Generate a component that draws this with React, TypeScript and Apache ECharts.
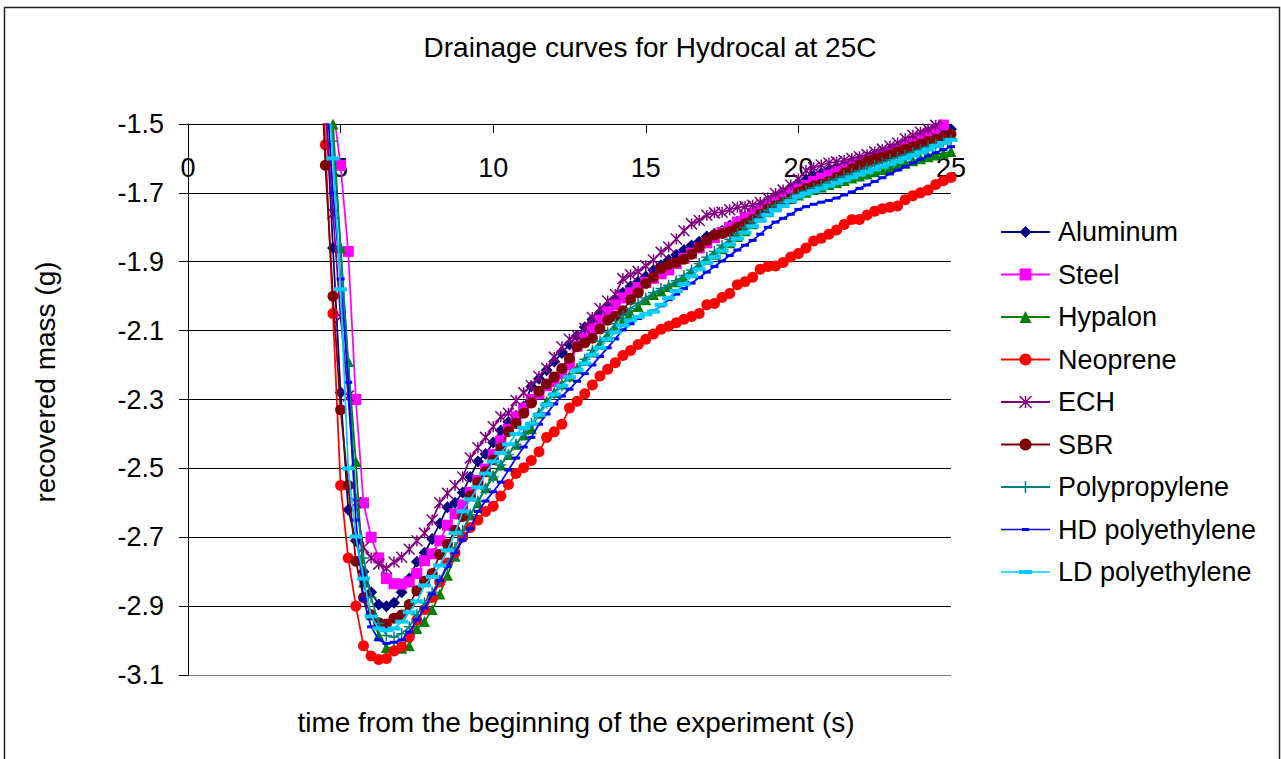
import React, { useEffect, useRef } from "react";
import * as echarts from "echarts";

// Sample times (s), one reading every 0.25 s
const TIME = [
  4.25, 4.5, 4.75,
  5, 5.25, 5.5, 5.75,
  6, 6.25, 6.5, 6.75,
  7, 7.25, 7.5, 7.75,
  8, 8.25, 8.5, 8.75,
  9, 9.25, 9.5, 9.75,
  10, 10.25, 10.5, 10.75,
  11, 11.25, 11.5, 11.75,
  12, 12.25, 12.5, 12.75,
  13, 13.25, 13.5, 13.75,
  14, 14.25, 14.5, 14.75,
  15, 15.25, 15.5, 15.75,
  16, 16.25, 16.5, 16.75,
  17, 17.25, 17.5, 17.75,
  18, 18.25, 18.5, 18.75,
  19, 19.25, 19.5, 19.75,
  20, 20.25, 20.5, 20.75,
  21, 21.25, 21.5, 21.75,
  22, 22.25, 22.5, 22.75,
  23, 23.25, 23.5, 23.75,
  24, 24.25, 24.5, 24.75,
  25,
];

// Recovered mass (g) for each surface material
const ALUMINUM = [
  -1.0, -1.42, -1.86,
  -2.28, -2.62, -2.71, -2.8,
  -2.86, -2.895, -2.9, -2.89,
  -2.86, -2.82, -2.771, -2.745,
  -2.705, -2.66, -2.613, -2.6,
  -2.57, -2.525, -2.48, -2.458,
  -2.425, -2.39, -2.365, -2.347,
  -2.32, -2.262, -2.24, -2.215,
  -2.19, -2.165, -2.14, -2.115,
  -2.09, -2.068, -2.048, -2.03,
  -2.01, -1.99, -1.972, -1.958,
  -1.943, -1.925, -1.91, -1.895,
  -1.88, -1.866, -1.853, -1.842,
  -1.827, -1.819, -1.81, -1.795,
  -1.783, -1.771, -1.758, -1.745,
  -1.73, -1.715, -1.7, -1.685,
  -1.673, -1.662, -1.65, -1.642,
  -1.634, -1.626, -1.618, -1.61,
  -1.603, -1.597, -1.59, -1.582,
  -1.575, -1.568, -1.56, -1.553,
  -1.546, -1.538, -1.53, -1.522,
  -1.515,
];

const STEEL = [
  -0.95, -1.2, -1.45,
  -1.62, -1.87, -2.3, -2.6,
  -2.7, -2.76, -2.82, -2.835,
  -2.836, -2.83, -2.805, -2.768,
  -2.748, -2.71, -2.665, -2.632,
  -2.606, -2.57, -2.535, -2.502,
  -2.46, -2.42, -2.386, -2.35,
  -2.325, -2.3, -2.283, -2.26,
  -2.248, -2.225, -2.2, -2.145,
  -2.12, -2.095, -2.07, -2.045,
  -2.025, -2.005, -1.99, -1.975,
  -1.96, -1.948, -1.935, -1.924,
  -1.905, -1.89, -1.875, -1.86,
  -1.845, -1.83, -1.815, -1.8,
  -1.785, -1.772, -1.76, -1.748,
  -1.735, -1.722, -1.71, -1.698,
  -1.688, -1.678, -1.667, -1.657,
  -1.648, -1.638, -1.63, -1.622,
  -1.614, -1.605, -1.597, -1.59,
  -1.582, -1.573, -1.563, -1.552,
  -1.54, -1.528, -1.516, -1.503,
  -1.49,
];

const HYPALON = [
  -0.9, -1.15, -1.5,
  -1.86, -2.19, -2.48, -2.83,
  -2.925, -2.985, -3.02, -3.022,
  -3.022, -3.015, -2.965, -2.945,
  -2.91, -2.865, -2.81, -2.755,
  -2.69, -2.635, -2.6, -2.556,
  -2.52, -2.49, -2.46, -2.43,
  -2.403, -2.385, -2.34, -2.305,
  -2.28, -2.255, -2.232, -2.21,
  -2.186, -2.162, -2.14, -2.117,
  -2.093, -2.07, -2.05, -2.03,
  -2.01, -1.995, -1.985, -1.972,
  -1.958, -1.945, -1.928, -1.91,
  -1.893, -1.878, -1.862, -1.845,
  -1.827, -1.81, -1.79, -1.77,
  -1.755, -1.74, -1.728, -1.716,
  -1.706, -1.698, -1.69, -1.683,
  -1.676, -1.67, -1.664, -1.657,
  -1.651, -1.645, -1.639, -1.632,
  -1.626, -1.62, -1.614, -1.607,
  -1.601, -1.595, -1.59, -1.585,
  -1.58,
];

const NEOPRENE = [
  -1.0, -1.56, -2.05,
  -2.55, -2.76, -2.9, -3.015,
  -3.045, -3.055, -3.052, -3.03,
  -3.018, -2.99, -2.94, -2.91,
  -2.875, -2.83, -2.775, -2.745,
  -2.7, -2.672, -2.65, -2.625,
  -2.61, -2.58, -2.547, -2.515,
  -2.498, -2.477, -2.452, -2.41,
  -2.394, -2.372, -2.325, -2.305,
  -2.283, -2.258, -2.232, -2.212,
  -2.193, -2.172, -2.158, -2.14,
  -2.125, -2.11, -2.096, -2.087,
  -2.077, -2.067, -2.059, -2.05,
  -2.025, -2.021, -2.004, -1.992,
  -1.967, -1.958, -1.945, -1.922,
  -1.914, -1.912, -1.902, -1.886,
  -1.876, -1.86, -1.84, -1.832,
  -1.82, -1.808, -1.792, -1.777,
  -1.777, -1.764, -1.753, -1.746,
  -1.742, -1.738, -1.72, -1.708,
  -1.7, -1.692, -1.676, -1.665,
  -1.655,
];

const ECH = [
  -1.05, -1.45, -1.76,
  -2.06, -2.29, -2.6, -2.73,
  -2.76, -2.778, -2.79, -2.772,
  -2.758, -2.735, -2.71, -2.688,
  -2.65, -2.6, -2.572, -2.55,
  -2.525, -2.47, -2.44, -2.41,
  -2.379, -2.35, -2.34, -2.303,
  -2.28, -2.26, -2.233, -2.209,
  -2.177, -2.147, -2.125, -2.114,
  -2.093, -2.062, -2.036, -2.014,
  -1.995, -1.949, -1.938, -1.928,
  -1.912, -1.895, -1.872, -1.857,
  -1.834, -1.81, -1.79, -1.78,
  -1.765, -1.758, -1.756, -1.749,
  -1.742, -1.74, -1.736, -1.728,
  -1.715, -1.702, -1.692, -1.677,
  -1.66, -1.635, -1.627, -1.619,
  -1.613, -1.61, -1.606, -1.6,
  -1.595, -1.589, -1.581, -1.573,
  -1.564, -1.555, -1.543, -1.533,
  -1.524, -1.515, -1.504, -1.496,
  -1.488,
];

const SBR = [
  -1.1, -1.62, -2.0,
  -2.33, -2.55, -2.77, -2.875,
  -2.925, -2.948, -2.952, -2.935,
  -2.926, -2.895, -2.855, -2.828,
  -2.805, -2.75, -2.72, -2.68,
  -2.64, -2.58, -2.54, -2.51,
  -2.475, -2.44, -2.393, -2.37,
  -2.34, -2.31, -2.276, -2.255,
  -2.235, -2.21, -2.18, -2.147,
  -2.135, -2.122, -2.095, -2.07,
  -2.058, -2.042, -2.01, -1.99,
  -1.963, -1.945, -1.92, -1.908,
  -1.902, -1.893, -1.878, -1.858,
  -1.838, -1.822, -1.818, -1.812,
  -1.8, -1.79, -1.778, -1.762,
  -1.746, -1.737, -1.727, -1.717,
  -1.698, -1.687, -1.68, -1.674,
  -1.667, -1.655, -1.642, -1.63,
  -1.62, -1.609, -1.603, -1.597,
  -1.59, -1.581, -1.573, -1.566,
  -1.558, -1.551, -1.544, -1.537,
  -1.53,
];

const POLYPROPYLENE = [
  -0.95, -1.25, -1.55,
  -1.86, -2.2, -2.59, -2.76,
  -2.875, -2.95, -2.985, -2.99,
  -2.98, -2.96, -2.925, -2.89,
  -2.86, -2.825, -2.78, -2.73,
  -2.68, -2.635, -2.595, -2.56,
  -2.525, -2.49, -2.46, -2.43,
  -2.4, -2.37, -2.34, -2.31,
  -2.285, -2.26, -2.235, -2.21,
  -2.183, -2.157, -2.13, -2.105,
  -2.08, -2.057, -2.036, -2.02,
  -2.005, -1.99, -1.978, -1.968,
  -1.955, -1.94, -1.924, -1.905,
  -1.887, -1.87, -1.852, -1.835,
  -1.818, -1.8, -1.782, -1.765,
  -1.75, -1.737, -1.726, -1.714,
  -1.703, -1.694, -1.685, -1.677,
  -1.668, -1.66, -1.652, -1.644,
  -1.636, -1.628, -1.62, -1.612,
  -1.604, -1.597, -1.59, -1.582,
  -1.574, -1.566, -1.558, -1.552,
  -1.546,
];

const HD_POLYETHYLENE = [
  -1.0, -1.35, -1.7,
  -1.95, -2.25, -2.65, -2.88,
  -2.96, -2.998, -3.008, -3.005,
  -2.998, -2.975, -2.94, -2.906,
  -2.865, -2.826, -2.785, -2.745,
  -2.708, -2.675, -2.625, -2.595,
  -2.568, -2.54, -2.505, -2.47,
  -2.438, -2.41, -2.372, -2.342,
  -2.313, -2.29, -2.27, -2.247,
  -2.225, -2.2, -2.175, -2.15,
  -2.124, -2.098, -2.08, -2.065,
  -2.052, -2.043, -2.028, -2.01,
  -1.994, -1.978, -1.962, -1.946,
  -1.93, -1.914, -1.898, -1.882,
  -1.866, -1.852, -1.838, -1.82,
  -1.8, -1.785, -1.774, -1.762,
  -1.748, -1.74, -1.733, -1.727,
  -1.722, -1.715, -1.706, -1.697,
  -1.687, -1.677, -1.667, -1.656,
  -1.645, -1.634, -1.624, -1.613,
  -1.602, -1.592, -1.583, -1.574,
  -1.566,
];

const LD_POLYETHYLENE = [
  -1.0, -1.3, -1.6,
  -1.98, -2.5, -2.698, -2.82,
  -2.93, -2.965, -2.97, -2.965,
  -2.945, -2.918, -2.886, -2.84,
  -2.815, -2.782, -2.738, -2.688,
  -2.625, -2.59, -2.555, -2.515,
  -2.48, -2.455, -2.43, -2.4,
  -2.382, -2.37, -2.345, -2.315,
  -2.285, -2.26, -2.235, -2.215,
  -2.195, -2.17, -2.15, -2.125,
  -2.105, -2.085, -2.07, -2.06,
  -2.053, -2.045, -2.025, -2.005,
  -1.985, -1.965, -1.942, -1.922,
  -1.903, -1.886, -1.868, -1.85,
  -1.833, -1.816, -1.797, -1.78,
  -1.764, -1.75, -1.738, -1.724,
  -1.711, -1.702, -1.695, -1.687,
  -1.679, -1.671, -1.663, -1.655,
  -1.647, -1.64, -1.632, -1.624,
  -1.617, -1.609, -1.6, -1.592,
  -1.583, -1.574, -1.564, -1.555,
  -1.546,
];

const SERIES_NAMES = [
  "Aluminum",
  "Steel",
  "Hypalon",
  "Neoprene",
  "ECH",
  "SBR",
  "Polypropylene",
  "HD polyethylene",
  "LD polyethylene",
];

const SERIES_VALUES = [
  ALUMINUM,
  STEEL,
  HYPALON,
  NEOPRENE,
  ECH,
  SBR,
  POLYPROPYLENE,
  HD_POLYETHYLENE,
  LD_POLYETHYLENE,
];

const X_TICKS = { min: 0, max: 25, step: 5 };
const Y_TICKS = { min: -3.1, max: -1.5, step: 0.2 };

const TITLE = "Drainage curves for Hydrocal at 25C";
const X_TITLE = "time from the beginning of the experiment (s)";
const Y_TITLE = "recovered mass (g)";

const FONT = '"Liberation Sans", Arial, sans-serif';

// Marker appearance per series (Excel-style markers)
const ASTERISK = "path://M0,0L10,10M10,0L0,10M5,0L5,10";
const PLUS = "path://M5,0L5,10M0,5L10,5";
const STYLES = [
  { color: "#000080", symbol: "diamond", size: [12, 12], stroke: 0 },
  { color: "#FF00FF", symbol: "rect", size: [11, 11], stroke: 0 },
  { color: "#008000", symbol: "triangle", size: [11, 11], stroke: 0 },
  { color: "#FF0000", symbol: "circle", size: [11, 11], stroke: 0 },
  { color: "#800080", symbol: ASTERISK, size: [11, 11], stroke: 1.5 },
  { color: "#800000", symbol: "circle", size: [11, 11], stroke: 0 },
  { color: "#008080", symbol: PLUS, size: [11, 11], stroke: 1.5 },
  { color: "#0000FF", symbol: "rect", size: [8, 3], stroke: 0 },
  { color: "#00CCFF", symbol: "rect", size: [13, 4], stroke: 0 },
];

// Legend icons for the dash markers: a line with a short bar on it
const LEGEND_ICONS: Record<string, string> = {
  "HD polyethylene": "path://M0,0.75H49V2.25H0Z M21,0H28V3H21Z",
  "LD polyethylene": "path://M0,1.25H49V2.75H0Z M18,0H31V4H18Z",
};

function buildOption(): echarts.EChartsCoreOption {
  const series = SERIES_NAMES.map((name, k) => {
    const st = STYLES[k];
    return {
      name,
      type: "line",
      data: TIME.map((t, i) => [t, SERIES_VALUES[k][i]]),
      symbol: st.symbol,
      symbolSize: st.size,
      showAllSymbol: true,
      clip: true,
      lineStyle: { color: st.color, width: 1.75 },
      itemStyle: {
        color: st.color,
        borderColor: st.color,
        borderWidth: st.stroke,
      },
      emphasis: { disabled: true },
      z: 2 + k,
    };
  });

  const legendData = SERIES_NAMES.map((name, k) => {
    const item: any = { name };
    if (LEGEND_ICONS[name]) item.icon = LEGEND_ICONS[name];
    if (STYLES[k].stroke > 0) {
      item.itemStyle = { borderWidth: 1.5, borderColor: STYLES[k].color };
    }
    return item;
  });

  return {
    animation: false,
    backgroundColor: "#ffffff",
    textStyle: { fontFamily: FONT },
    grid: {
      left: 188,
      top: 124,
      width: 763,
      height: 551,
      containLabel: false,
      outerBoundsMode: "none",
    },
    xAxis: {
      type: "value",
      position: "top",
      min: X_TICKS.min,
      max: X_TICKS.max,
      interval: X_TICKS.step,
      axisLine: { show: true, onZero: false, lineStyle: { color: "#000", width: 1 } },
      axisTick: { show: true, inside: true, length: 9, lineStyle: { color: "#000" } },
      axisLabel: {
        inside: true,
        margin: 30,
        fontSize: 27,
        color: "#000",
        fontFamily: FONT,
        showMinLabel: true,
        showMaxLabel: true,
      },
      splitLine: { show: false },
    },
    yAxis: {
      type: "value",
      min: Y_TICKS.min,
      max: Y_TICKS.max,
      interval: Y_TICKS.step,
      axisLine: { show: true, onZero: false, lineStyle: { color: "#000", width: 1 } },
      axisTick: { show: true, length: 9, lineStyle: { color: "#000" } },
      axisLabel: {
        margin: 24,
        fontSize: 27,
        color: "#000",
        fontFamily: FONT,
        formatter: (v: number) => v.toFixed(1),
      },
      splitLine: {
        show: true,
        lineStyle: {
          color: ["#808080", "#000", "#000", "#000", "#000", "#000", "#000", "#000", "#000"],
          width: 1,
        },
      },
    },
    legend: {
      orient: "vertical",
      left: 1000,
      top: 218,
      padding: 0,
      itemWidth: 49,
      itemHeight: 15,
      itemGap: 14.5,
      selectedMode: false,
      itemStyle: { borderWidth: 0 },
      textStyle: {
        fontSize: 27,
        lineHeight: 28,
        color: "#000",
        fontFamily: FONT,
        padding: [0, 0, 0, 3],
      },
      data: legendData,
    },
    graphic: [
      {
        type: "rect",
        silent: true,
        shape: { x: 4.5, y: 7.5, width: 1275, height: 760 },
        style: { fill: "none", stroke: "#222", lineWidth: 1.5 },
      },
      {
        type: "text",
        silent: true,
        x: 650,
        y: 47,
        style: {
          text: TITLE,
          fontSize: 28,
          fontFamily: FONT,
          fill: "#000",
          align: "center",
          verticalAlign: "middle",
        },
      },
      {
        type: "text",
        silent: true,
        x: 576,
        y: 722,
        style: {
          text: X_TITLE,
          fontSize: 28,
          fontFamily: FONT,
          fill: "#000",
          align: "center",
          verticalAlign: "middle",
        },
      },
      {
        type: "text",
        silent: true,
        x: 45,
        y: 382,
        rotation: Math.PI / 2,
        style: {
          text: Y_TITLE,
          fontSize: 28,
          fontFamily: FONT,
          fill: "#000",
          align: "center",
          verticalAlign: "middle",
        },
      },
    ],
    series,
  };
}

export default function App() {
  const ref = useRef<HTMLDivElement>(null);

  useEffect(() => {
    if (!ref.current) return;
    const chart = echarts.init(ref.current, null, { renderer: "svg" });
    chart.setOption(buildOption());
    return () => {
      chart.dispose();
    };
  }, []);

  return (
    <div
      ref={ref}
      style={{
        position: "fixed",
        left: 0,
        top: 0,
        width: 1281,
        height: 759,
        background: "#ffffff",
      }}
    />
  );
}
